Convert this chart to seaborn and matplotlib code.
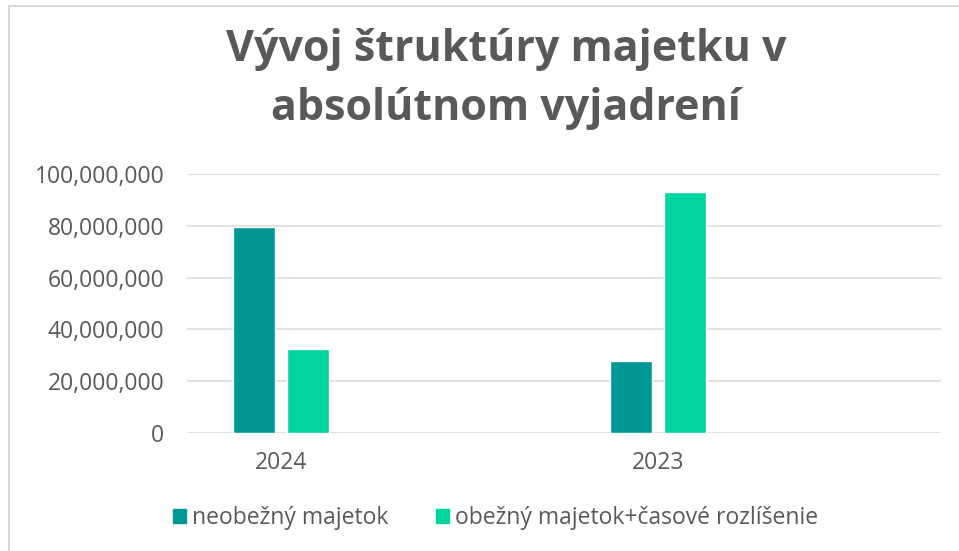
import numpy as np
import pandas as pd
import matplotlib
matplotlib.use("Agg")
import matplotlib.pyplot as plt
import seaborn as sns
from matplotlib.ticker import FuncFormatter, MultipleLocator
from matplotlib.patches import Rectangle

# Data
years = ["2024", "2023"]
series_names = ["neobežný majetok", "obežný majetok+časové rozlíšenie"]
neobezny = [79_500_000, 27_700_000]
obezny = [32_300_000, 93_100_000]
colors = ["#009795", "#00D49F"]
title_lines = ["Vývoj štruktúry majetku v", "absolútnom vyjadrení"]

df = pd.DataFrame({
    "rok": years * 2,
    "hodnota": neobezny + obezny,
    "typ": [series_names[0]] * 2 + [series_names[1]] * 2,
})

sns.set_theme(style="white")
plt.rcParams["font.family"] = ["Open Sans", "DejaVu Sans"]
gray = "#595959"

fig = plt.figure(figsize=(9.59, 5.51), dpi=100)
ax = fig.add_axes([0.1953, 0.2147, 0.981 - 0.1953, 0.469])

sns.barplot(data=df, x="rok", y="hodnota", hue="typ", order=years,
            hue_order=series_names, palette=colors, width=0.2866, gap=0.217,
            saturation=1, ax=ax, legend=False)

ax.set_xlim(-0.2487, 1.751)
ax.set_ylim(0, 100_000_000)
ax.yaxis.set_major_locator(MultipleLocator(20_000_000))
ax.yaxis.set_major_formatter(FuncFormatter(lambda v, p: f"{int(v):,}"))
ax.grid(axis="y", color="#D9D9D9", linewidth=1.1)
ax.set_axisbelow(True)
for s in ax.spines.values():
    s.set_visible(False)
ax.set_xlabel("")
ax.set_ylabel("")
ax.tick_params(axis="both", length=0, colors=gray, labelsize=16.5)
ax.tick_params(axis="y", pad=16.5)
ax.tick_params(axis="x", pad=13.5)

# Title, two lines placed on their baselines
for line, yb in zip(title_lines, [0.8893, 0.7822]):
    fig.text(0.5276, yb, line, ha="center", va="baseline", fontsize=31,
             fontweight="bold", color=gray)

# Legend
handles = [Rectangle((0, 0), 1, 1, color=c) for c in colors]
fig.legend(handles, series_names, loc="center", bbox_to_anchor=(0.517, 0.06),
           ncol=2, frameon=False, fontsize=16.5, labelcolor=gray,
           handlelength=0.55, handleheight=0.55, handletextpad=0.26,
           columnspacing=2.1)

# Chart border (left and top edges visible)
fig.patches.append(Rectangle((9 / 959, -0.1), 1.2, 1 - 6 / 551 + 0.1,
                             transform=fig.transFigure, fill=False,
                             edgecolor="#D9D9D9", linewidth=1.5))

fig.savefig("out.png", dpi=100)
